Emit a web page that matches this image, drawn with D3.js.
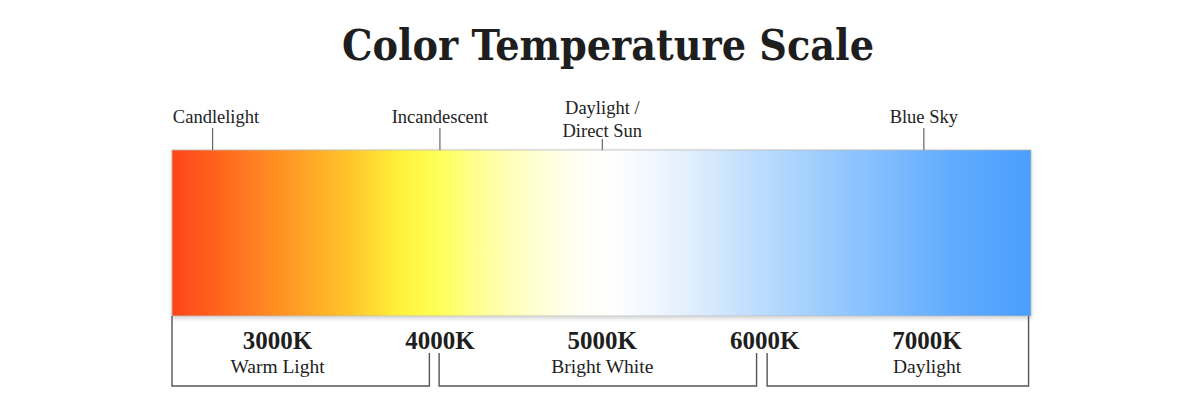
<!DOCTYPE html>
<html>
<head>
<meta charset="utf-8">
<script src="https://cdn.jsdelivr.net/npm/d3@7"></script>
<style>
  body { margin: 0; background: #fff; }
  svg { display: block; }
</style>
</head>
<body>
<svg id="chart" width="1200" height="401"></svg>
<script>
// colour stops along the bar (kelvin -> colour)
const stopKelvin = [2350, 2770, 3140, 3450, 3750, 4000, 4250, 4550, 4830, 5050, 5290, 5600, 5970, 6520, 7140, 7640];
const stopColor = ["#ff4419", "#ff7420", "#ffa126", "#ffc62c", "#fff23a", "#ffff5a", "#ffff96", "#ffffcc",
                   "#fffff2", "#ffffff", "#f2f8ff", "#dcecfe", "#bcdcfd", "#90c6fe", "#62acfe", "#4a9efe"];

// light sources marked above the bar
const sourceNames = [["Candlelight"], ["Incandescent"], ["Daylight /", "Direct Sun"], ["Blue Sky"]];
const sourceKelvin = [2600, 4000, 5000, 6980];

// scale labels below the bar
const tickKelvin = [3000, 4000, 5000, 6000, 7000];
const tickLabels = ["3000K", "4000K", "5000K", "6000K", "7000K"];
const rangeKelvin = [3000, 5000, 7000];
const rangeNames = ["Warm Light", "Bright White", "Daylight"];

// brackets grouping the ranges
const bracketStart = [2350, 3995, 6015];
const bracketEnd = [3935, 5950, 7625];

const svg = d3.select("#chart");
const barTop = 150, barBottom = 316;

const x = d3.scaleLinear()
    .domain([2350, 7640])
    .range([172, 1031]);

const defs = svg.append("defs");
const grad = defs.append("linearGradient")
    .attr("id", "temp")
    .attr("gradientUnits", "userSpaceOnUse")
    .attr("x1", x.range()[0]).attr("x2", x.range()[1])
    .attr("y1", 0).attr("y2", 0);
grad.selectAll("stop")
    .data(stopKelvin)
    .enter().append("stop")
    .attr("offset", d => (x(d) - x.range()[0]) / (x.range()[1] - x.range()[0]))
    .attr("stop-color", (d, i) => stopColor[i]);

const shadow = defs.append("filter").attr("id", "shadow")
    .attr("x", "-5%").attr("y", "-10%").attr("width", "110%").attr("height", "125%");
shadow.append("feDropShadow")
    .attr("dx", 0).attr("dy", 2).attr("stdDeviation", 2)
    .attr("flood-color", "#000").attr("flood-opacity", 0.18);

// title
svg.append("text")
    .attr("x", 608)
    .attr("y", 60)
    .attr("text-anchor", "middle")
    .attr("font-family", "DejaVu Serif")
    .attr("font-stretch", "condensed")
    .attr("font-weight", "bold")
    .attr("font-size", 43)
    .attr("textLength", 532)
    .attr("lengthAdjust", "spacingAndGlyphs")
    .attr("fill", "#1e1e1e")
    .text("Color Temperature Scale");

// the bar
svg.append("rect")
    .attr("x", x.range()[0])
    .attr("y", barTop)
    .attr("width", x.range()[1] - x.range()[0])
    .attr("height", barBottom - barTop)
    .attr("fill", "url(#temp)")
    .attr("stroke", "#b8b8b8")
    .attr("stroke-width", 0.8)
    .attr("filter", "url(#shadow)");

// source markers
const src = svg.append("g").selectAll("g")
    .data(sourceKelvin)
    .enter().append("g");

src.append("line")
    .attr("x1", d => x(d)).attr("x2", d => x(d))
    .attr("y1", (d, i) => sourceNames[i].length > 1 ? 139 : 128)
    .attr("y2", barTop)
    .attr("stroke", "#666")
    .attr("stroke-width", 1.2);

src.append("text")
    .attr("text-anchor", "middle")
    .attr("font-family", "Liberation Serif")
    .attr("font-size", 18.5)
    .attr("fill", "#222")
    .each(function (d, i) {
        const lines = sourceNames[i];
        const t = d3.select(this);
        lines.forEach((s, j) => {
            t.append("tspan")
                .attr("x", Math.max(x(d), 216))
                .attr("y", lines.length > 1 ? 114 + j * 23 : 123)
                .text(s);
        });
    });

// brackets below the bar
const last = bracketStart.length - 1;
svg.append("g").selectAll("path")
    .data(bracketStart)
    .enter().append("path")
    .attr("d", (d, i) => {
        const x0 = x(d), x1 = x(bracketEnd[i]);
        const y0 = i === 0 ? barBottom : 353;
        const y1 = i === last ? barBottom : 353;
        return `M${x0},${y0}V386H${x1}V${y1}`;
    })
    .attr("fill", "none")
    .attr("stroke", "#555")
    .attr("stroke-width", 1.4);

// kelvin labels
svg.append("g").selectAll("text")
    .data(tickKelvin)
    .enter().append("text")
    .attr("x", d => x(d))
    .attr("y", 349)
    .attr("text-anchor", "middle")
    .attr("font-family", "Liberation Serif")
    .attr("font-weight", "bold")
    .attr("font-size", 25)
    .attr("fill", "#1e1e1e")
    .text((d, i) => tickLabels[i]);

// range names
svg.append("g").selectAll("text")
    .data(rangeKelvin)
    .enter().append("text")
    .attr("x", d => x(d))
    .attr("y", 373)
    .attr("text-anchor", "middle")
    .attr("font-family", "Liberation Serif")
    .attr("font-size", 19.5)
    .attr("fill", "#222")
    .text((d, i) => rangeNames[i]);
</script>
</body>
</html>
